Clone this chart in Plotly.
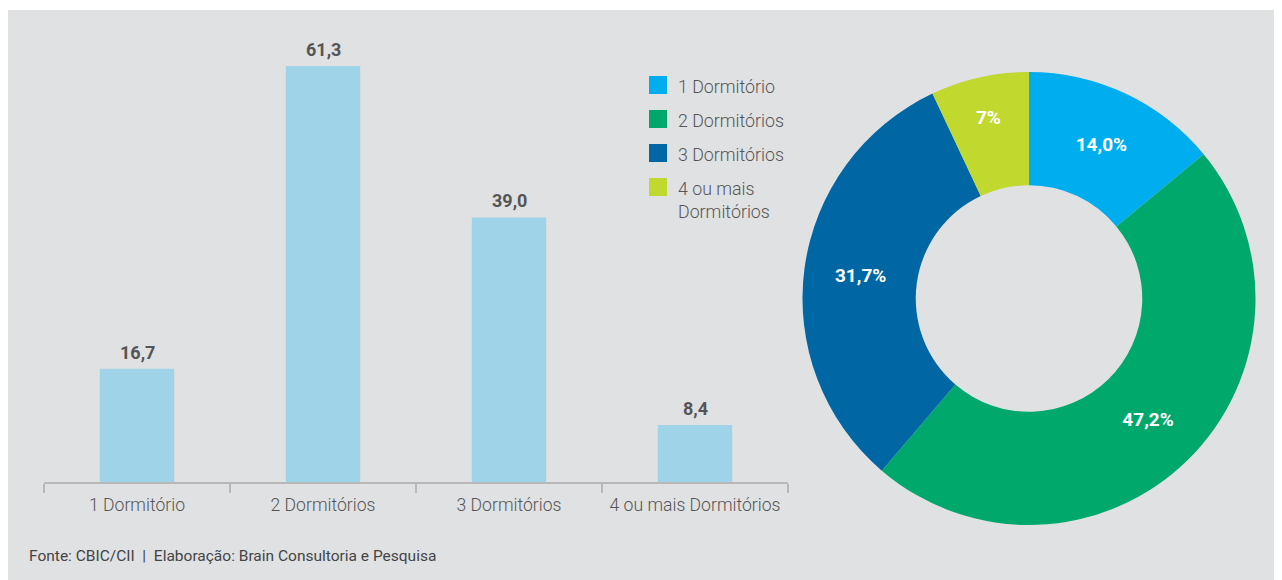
import plotly.graph_objects as go

categories = ["1 Dormitório", "2 Dormitórios", "3 Dormitórios", "4 ou mais Dormitórios"]
bar_values = [16.7, 61.3, 39.0, 8.4]

pie_labels = ["1 Dormitório", "2 Dormitórios", "3 Dormitórios", "4 ou mais<br>Dormitórios"]
pie_values = [14.0, 47.2, 31.7, 7.0]
pie_text = ["14,0%", "47,2%", "31,7%", "7%"]
pie_colors = ["#00aeef", "#00a86b", "#0066a4", "#c1d82f"]

source = "Fonte: CBIC/CII  |  Elaboração: Brain Consultoria e Pesquisa"

# page body has an 8px margin: work in screen pixels and convert
OFF = 8
W, H = 1282 - OFF, 580 - OFF


def px(x):
    return (x - OFF) / W


def py(y):
    return (H - (y - OFF)) / H


FONT = "Roboto, sans-serif"
TXT = "#555555"

fig = go.Figure()

fig.add_trace(go.Bar(
    x=categories, y=bar_values,
    width=0.4,
    marker=dict(color="#9fd3e7", line=dict(width=0)),
    showlegend=False,
    hoverinfo="x+y",
))

fig.add_trace(go.Pie(
    labels=pie_labels, values=pie_values,
    text=pie_text, textinfo="text",
    textposition="inside", insidetextorientation="horizontal",
    textfont=dict(family=FONT, size=19, color="white", weight="bold"),
    marker=dict(colors=pie_colors, line=dict(width=0)),
    hole=0.5, sort=False, direction="clockwise", rotation=0,
    domain=dict(x=[px(802), px(1256)], y=[py(525), py(72)]),
    showlegend=False,
))

annotations = []
# bar value labels
for c, v in zip(categories, bar_values):
    annotations.append(dict(
        x=c, y=v, xref="x", yref="y", text=f"{v:.1f}".replace(".", ","),
        showarrow=False, yanchor="bottom", yshift=4,
        font=dict(family=FONT, size=18, color=TXT, weight="bold"),
    ))

# manual legend (large square swatches)
shapes = [dict(type="rect", xref="paper", yref="paper", x0=0, x1=1, y0=0, y1=py(10),
               fillcolor="#e0e1e3", line=dict(width=0), layer="below")]
leg_x, leg_y0, leg_dy, sw = 649, 85, 34, 18
for i, (lab, col) in enumerate(zip(pie_labels, pie_colors)):
    cy = leg_y0 + i * leg_dy
    shapes.append(dict(type="rect", xref="paper", yref="paper",
                       x0=px(leg_x), x1=px(leg_x + sw), y0=py(cy + sw / 2), y1=py(cy - sw / 2),
                       fillcolor=col, line=dict(width=0)))
    annotations.append(dict(
        x=px(677), y=py(cy - 10), xref="paper", yref="paper", text=lab,
        xanchor="left", yanchor="top", align="left", showarrow=False, borderpad=0,
        font=dict(family=FONT, size=17.8, color=TXT, weight=300),
    ))

annotations.append(dict(text=source, xref="paper", yref="paper", x=px(27), y=py(556),
                        xanchor="left", yanchor="middle", showarrow=False,
                        font=dict(family=FONT, size=15.5, color="#444444")))

fig.update_layout(
    width=W, height=H,
    margin=dict(l=0, r=0, t=0, b=0),
    paper_bgcolor="white",
    plot_bgcolor="rgba(0,0,0,0)",
    separators=",.",
    font=dict(family=FONT, color=TXT),
    showlegend=False,
    xaxis=dict(
        domain=[px(44), px(788)],
        range=[-0.5, 3.5],
        showline=True, linecolor="#b8b8b8", linewidth=2,
        ticks="outside", tickson="boundaries", ticklen=9, tickwidth=2, tickcolor="#b8b8b8",
        tickfont=dict(family=FONT, size=17.6, color=TXT, weight=300),
        tickangle=0,
        ticklabelstandoff=6,
        showgrid=False, zeroline=False,
    ),
    yaxis=dict(
        domain=[py(482), py(41)],
        range=[0, 65],
        visible=False, showgrid=False, zeroline=False,
    ),
    shapes=shapes,
    annotations=annotations,
)

fig.write_html("out.html")
